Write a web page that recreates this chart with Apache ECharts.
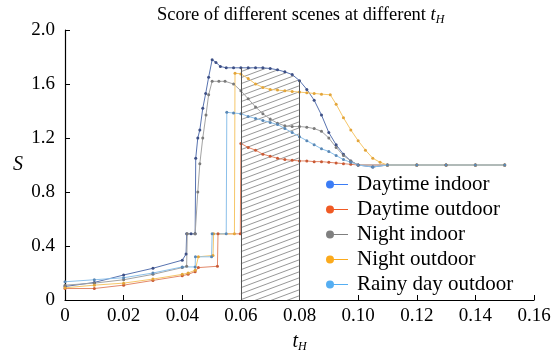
<!DOCTYPE html>
<html><head><meta charset="utf-8">
<script src="https://cdn.jsdelivr.net/npm/echarts@6/dist/echarts.min.js"></script>
<style>html,body{margin:0;padding:0;background:#fff}#c{width:554px;height:351px}</style>
</head><body><div id="c"></div>
<script>
// ---- data ----
const seriesNames = ['Daytime indoor', 'Daytime outdoor', 'Night indoor', 'Night outdoor', 'Rainy day outdoor'];
const xTickValues = [0, 0.02, 0.04, 0.06, 0.08, 0.10, 0.12, 0.14, 0.16];
const yTickValues = [0, 0.4, 0.8, 1.2, 1.6, 2.0];
const hatchRange = [0.06, 0.08];

const dayIndoorX = [0,0.01,0.02,0.03,0.04,0.0413,0.0415,0.043,0.0444,0.0446,0.0453,0.046,0.047,0.048,0.049,0.0502,0.0515,0.053,0.055,0.0575,0.06,0.0625,0.065,0.0675,0.07,0.0725,0.075,0.0775,0.08,0.0825,0.085,0.0875,0.09,0.0925,0.095,0.0975,0.10,0.105,0.11,0.12,0.13,0.14,0.15];
const dayIndoorY = [0.10,0.13,0.185,0.235,0.295,0.34,0.49,0.49,0.49,1.05,1.2,1.26,1.42,1.53,1.65,1.78,1.76,1.73,1.72,1.72,1.72,1.72,1.72,1.72,1.715,1.705,1.69,1.67,1.625,1.56,1.48,1.37,1.24,1.15,1.08,1.03,1.0,0.985,1.0,1.0,1.0,1.0,1.0];

const dayOutdoorX = [0,0.01,0.02,0.03,0.04,0.042,0.0444,0.0455,0.052,0.0522,0.0598,0.06,0.0625,0.065,0.0675,0.07,0.0725,0.075,0.0775,0.08,0.0825,0.085,0.0875,0.09,0.0925,0.095,0.0975,0.10,0.11,0.12,0.13,0.14,0.15];
const dayOutdoorY = [0.085,0.085,0.11,0.145,0.18,0.19,0.21,0.24,0.25,0.49,0.49,1.16,1.13,1.11,1.08,1.065,1.05,1.04,1.035,1.03,1.03,1.025,1.025,1.02,1.015,1.01,1.005,1.0,1.0,1.0,1.0,1.0,1.0];

const nightIndoorX = [0,0.01,0.02,0.03,0.04,0.0415,0.0417,0.0444,0.0453,0.046,0.047,0.0481,0.049,0.0502,0.0525,0.0546,0.0575,0.06,0.0625,0.065,0.0675,0.07,0.0725,0.075,0.0775,0.08,0.0825,0.085,0.0875,0.09,0.0925,0.095,0.0975,0.10,0.11,0.12,0.13,0.14,0.15];
const nightIndoorY = [0.11,0.125,0.15,0.19,0.24,0.25,0.49,0.49,0.8,1.01,1.2,1.37,1.52,1.62,1.62,1.62,1.60,1.55,1.49,1.43,1.38,1.34,1.31,1.29,1.285,1.285,1.28,1.27,1.25,1.2,1.13,1.07,1.03,1.0,1.0,1.0,1.0,1.0,1.0];

const nightOutdoorX = [0,0.01,0.02,0.03,0.04,0.042,0.0444,0.0455,0.0505,0.0507,0.0578,0.058,0.06,0.0625,0.065,0.0675,0.07,0.0725,0.075,0.0775,0.08,0.0825,0.085,0.0875,0.0905,0.0925,0.095,0.0975,0.10,0.1025,0.105,0.1075,0.11,0.12,0.13,0.14,0.15];
const nightOutdoorY = [0.09,0.11,0.125,0.155,0.19,0.2,0.22,0.32,0.33,0.49,0.49,1.68,1.675,1.64,1.60,1.575,1.56,1.555,1.55,1.545,1.54,1.535,1.53,1.525,1.52,1.45,1.35,1.26,1.18,1.11,1.05,1.02,1.0,1.0,1.0,1.0,1.0];

const rainyX = [0,0.01,0.02,0.03,0.04,0.0444,0.0445,0.0500,0.0502,0.055,0.0552,0.0575,0.06,0.0625,0.065,0.0675,0.07,0.0725,0.075,0.0775,0.08,0.0825,0.085,0.0875,0.09,0.0925,0.095,0.0975,0.10,0.105,0.11,0.12,0.13,0.14,0.15];
const rainyY = [0.135,0.15,0.165,0.20,0.245,0.245,0.32,0.32,0.49,0.49,1.39,1.385,1.38,1.36,1.345,1.33,1.315,1.30,1.27,1.24,1.21,1.18,1.15,1.12,1.10,1.07,1.04,1.02,1.0,0.985,1.0,1.0,1.0,1.0,1.0];

// ---- styles ----
const legendColors = ['#3b7cf5', '#f05a24', '#7f7f7f', '#fbaa1c', '#55aef2'];
const lineColors = ['#5873b0', '#e3896a', '#a3a3a3', '#f6c76a', '#8cc0ea'];
const markColors = ['#3d4f85', '#c95a35', '#7a7a7a', '#e3a53a', '#5a88b5'];
const FONT = 'Liberation Serif';

const xs = [dayIndoorX, dayOutdoorX, nightIndoorX, nightOutdoorX, rainyX];
const ys = [dayIndoorY, dayOutdoorY, nightIndoorY, nightOutdoorY, rainyY];

function pairs(x, y) { return x.map((v, i) => [v, y[i]]); }

function hatchCanvas() {
  const c = document.createElement('canvas');
  const W = 16, H = 6;
  c.width = W; c.height = H;
  const g = c.getContext('2d');
  g.strokeStyle = '#6a6a6a';
  g.lineWidth = 0.7;
  for (let k = -1; k <= 1; k++) {
    g.beginPath();
    g.moveTo(-W, 2 * H + k * H);
    g.lineTo(2 * W, -H + k * H);
    g.stroke();
  }
  return c;
}

const hatchData = pairs(dayIndoorX, dayIndoorY).filter(p => p[0] >= hatchRange[0] - 1e-9 && p[0] <= hatchRange[1] + 1e-9);
const yAt = x => dayIndoorY[dayIndoorX.findIndex(v => Math.abs(v - x) < 1e-9)];

const series = seriesNames.map((n, i) => ({
  name: n, type: 'line', data: pairs(xs[i], ys[i]),
  symbol: 'circle', symbolSize: 3, showAllSymbol: true,
  lineStyle: { color: lineColors[i], width: 1 },
  itemStyle: { color: markColors[i] },
  z: 3
}));

series.unshift({
  name: 'hatch', type: 'line', data: hatchData, silent: true,
  symbol: 'none', lineStyle: { width: 0, opacity: 0 },
  areaStyle: { color: { image: hatchCanvas(), repeat: 'repeat' }, opacity: 1 },
  z: 1,
  markLine: {
    silent: true, symbol: 'none', label: { show: false },
    lineStyle: { color: '#555', width: 1, type: 'solid' },
    data: [
      [{ coord: [hatchRange[0], 0] }, { coord: [hatchRange[0], yAt(hatchRange[0])] }],
      [{ coord: [hatchRange[1], 0] }, { coord: [hatchRange[1], yAt(hatchRange[1])] }]
    ]
  }
});

const legendIcon = 'path://M0,4A4,4 0 1,1 8,4A4,4 0 1,1 0,4ZM7,3.5L22,3.5L22,4.5L7,4.5Z';

const chart = echarts.init(document.getElementById('c'), null, { renderer: 'canvas' });
chart.setOption({
  animation: false,
  backgroundColor: '#fff',
  title: {
    text: 'Score of different scenes at different {i|t}{s|H}',
    left: 152, top: 0,
    textStyle: {
      fontFamily: FONT, fontSize: 18.5, fontWeight: 'normal', color: '#000', lineHeight: 21,
      rich: {
        i: { fontFamily: FONT, fontSize: 18.5, fontStyle: 'italic', color: '#000', lineHeight: 21 },
        s: { fontFamily: FONT, fontSize: 12, fontStyle: 'italic', color: '#000', lineHeight: 12, verticalAlign: 'bottom' }
      }
    }
  },
  legend: {
    orient: 'vertical', left: 321, top: 169,
    itemWidth: 22, itemHeight: 8, itemGap: 4,
    icon: legendIcon,
    data: seriesNames.map((n, i) => ({ name: n, itemStyle: { color: legendColors[i] } })),
    textStyle: { fontFamily: FONT, fontSize: 21, color: '#000', lineHeight: 21, padding: [0, 0, 0, 4] }
  },
  grid: { left: 65, right: 20, top: 30, bottom: 51, containLabel: false, outerBoundsMode: 'none' },
  xAxis: {
    type: 'value', min: xTickValues[0], max: xTickValues[xTickValues.length - 1], interval: 0.02,
    name: '{i|t}{s|H}', nameLocation: 'middle', nameGap: 23,
    nameTextStyle: {
      fontFamily: FONT, color: '#000', lineHeight: 22,
      rich: {
        i: { fontFamily: FONT, fontSize: 20, fontStyle: 'italic', color: '#000', lineHeight: 22 },
        s: { fontFamily: FONT, fontSize: 12, fontStyle: 'italic', color: '#000', lineHeight: 12, verticalAlign: 'bottom' }
      }
    },
    axisLine: { lineStyle: { color: '#000', width: 1.2 } },
    axisTick: { inside: true, length: 5, lineStyle: { color: '#000' } },
    splitLine: { show: false },
    axisLabel: {
      fontFamily: FONT, fontSize: 19, color: '#000', margin: 7,
      formatter: v => (Math.abs(v) < 1e-9 ? '0' : v.toFixed(2))
    }
  },
  yAxis: {
    type: 'value', min: yTickValues[0], max: yTickValues[yTickValues.length - 1], interval: 0.4,
    name: 'S', nameLocation: 'middle', nameGap: 42, nameRotate: 0,
    nameTextStyle: { fontFamily: FONT, fontSize: 20, fontStyle: 'italic', color: '#000' },
    axisLine: { show: true, lineStyle: { color: '#000', width: 1.2 } },
    axisTick: { show: true, inside: true, length: 5, lineStyle: { color: '#000' } },
    splitLine: { show: false },
    axisLabel: {
      fontFamily: FONT, fontSize: 19, color: '#000', margin: 10,
      formatter: v => (Math.abs(v) < 1e-9 ? '0' : v.toFixed(1))
    }
  },
  series: series
});
</script>
</body></html>
